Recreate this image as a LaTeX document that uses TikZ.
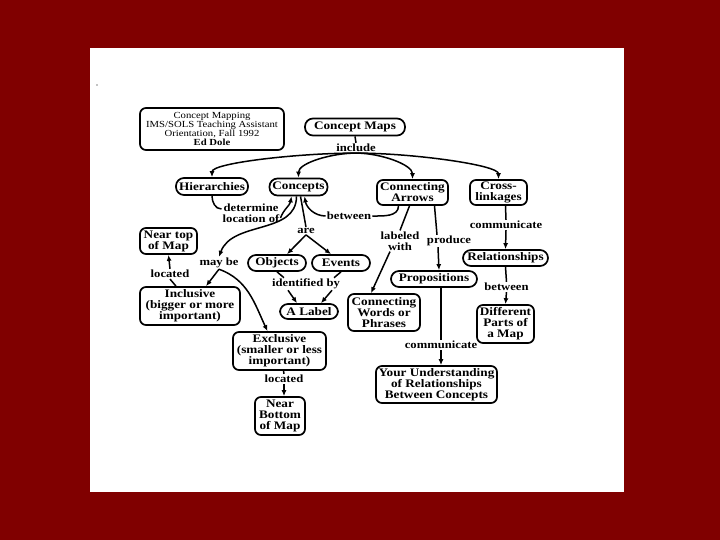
\documentclass[tikz,border=0pt]{standalone}
\usepackage{fontspec}
\setmainfont{Liberation Serif}[FakeStretch=1.15]
\usetikzlibrary{arrows.meta}
\definecolor{slidered}{HTML}{800000}

\begin{document}
\begin{tikzpicture}[x=1pt,y=1pt,
  box/.style={draw,line width=1.7pt,rounded corners=6pt,align=center,inner sep=1pt,
    font=\bfseries\fontsize{11.5}{11}\selectfont},
  pill/.style={box,rounded corners=8pt},
  lbl/.style={inner sep=1pt,align=center,font=\bfseries\fontsize{11}{11}\selectfont},
  link/.style={line width=1.5pt},
  arr/.style={link,-{Latex[length=6pt,width=5pt]}}]
% Slide background and white page.
\useasboundingbox (0,0) rectangle (720,-540);
\fill[slidered] (0,0) rectangle (720,-540);
\fill[white] (90,-48) rectangle (624,-492);
\fill (97,-85) circle (0.6);

% Title card.
\node[box,minimum width=144pt,minimum height=42pt,
  font=\fontsize{9.3}{8.9}\selectfont] (title) at (212,-129)
  {Concept Mapping\\IMS/SOLS Teaching Assistant\\Orientation, Fall 1992\\\textbf{Ed Dole}};

% Top level.
\node[pill,minimum width=100pt,minimum height=17pt] (cmaps) at (355,-127) {Concept Maps};
\node[lbl] (inc) at (356,-148) {include};
\node[pill,minimum width=72pt,minimum height=17pt] (hier) at (212,-186.5) {Hierarchies};
\node[pill,minimum width=58pt,minimum height=17pt] (con) at (298.5,-187) {Concepts};
\node[box,minimum width=71pt,minimum height=25pt] (ca) at (412.5,-192.5) {Connecting\\Arrows};
\node[box,minimum width=57pt,minimum height=25pt] (cross) at (498.5,-192.5) {Cross-\\linkages};

% Left part of the map.
\node[lbl] (det) at (251,-213) {determine\\location of};
\node[lbl] (betw) at (349,-216) {between};
\node[lbl] (are) at (306,-231) {are};
\node[box,minimum width=57pt,minimum height=26pt] (neartop) at (168.5,-241) {Near top\\of Map};
\node[lbl] (loc1) at (170,-274) {located};
\node[lbl] (maybe) at (219,-263) {may be};
\node[pill,minimum width=58pt,minimum height=16pt] (obj) at (277,-263) {Objects};
\node[pill,minimum width=58pt,minimum height=16pt] (ev) at (341,-263) {Events};
\node[lbl] (idby) at (306,-284) {identified by};
\node[pill,minimum width=58pt,minimum height=15pt] (alabel) at (309,-311.5) {A Label};
\node[box,minimum width=100pt,minimum height=38pt] (incl) at (190,-306)
  {Inclusive\\(bigger or more\\important)};
\node[box,minimum width=93pt,minimum height=38pt] (excl) at (279.5,-351)
  {Exclusive\\(smaller or less\\important)};
\node[lbl] (loc2) at (284,-379) {located};
\node[box,minimum width=50pt,minimum height=38pt] (nbot) at (280,-416) {Near\\Bottom\\of Map};

% Right part of the map.
\node[lbl] (labw) at (400,-241) {labeled\\with};
\node[lbl] (prod) at (449,-241) {produce};
\node[pill,minimum width=86pt,minimum height=16pt] (prop) at (434,-279) {Propositions};
\node[box,minimum width=72pt,minimum height=37pt] (cwp) at (384,-312.5) {Connecting\\Words or\\Phrases};
\node[lbl] (comm1) at (441,-345) {communicate};
\node[box,minimum width=121pt,minimum height=37pt] (yu) at (436.5,-384.5)
  {Your Understanding\\of Relationships\\Between Concepts};
\node[lbl] (comm2) at (506,-225) {communicate};
\node[pill,minimum width=85pt,minimum height=16pt] (rel) at (505.5,-258) {Relationships};
\node[lbl] (betw2) at (506.5,-287) {between};
\node[box,minimum width=57pt,minimum height=38pt] (diff) at (505.5,-324) {Different\\Parts of\\a Map};

% include branches.
\draw[link] (cmaps.south) -- (inc.north);
\draw[arr] (inc.south) to[out=180,in=90,in looseness=0.25] (hier.north);
\draw[arr] (inc.south) to[out=180,in=90,in looseness=0.6] (con.north);
\draw[arr] (inc.south) to[out=0,in=90,in looseness=0.6] (ca.north);
\draw[arr] (inc.south) to[out=0,in=90,in looseness=0.25] (cross.north);

% Links into Concepts.
\draw[link] (hier.south) to[out=-90,in=180] ([yshift=4pt]det.west);
\draw[arr] ([yshift=-5pt]det.east) to[out=70,in=-100] ([xshift=-7pt]con.south);
\draw[link] ([xshift=-14pt]ca.south) to[out=-90,in=0] (betw.east);
\draw[arr] (betw.west) to[out=180,in=-80] ([xshift=6pt]con.south);

% Concepts downwards.
\draw[arr] ([xshift=-2pt]con.south) to[out=-90,in=70] (maybe.north);
\draw[link] ([xshift=2pt]con.south) -- (are.north);
\draw[arr] (are.south) -- ([xshift=10pt]obj.north);
\draw[arr] (are.south) -- ([xshift=-10pt]ev.north);
\draw[link] (obj.south) -- ([xshift=-22pt]idby.north);
\draw[link] (ev.south) -- ([xshift=28pt]idby.north);
\draw[arr] ([xshift=-18pt]idby.south) -- ([xshift=-12pt]alabel.north);
\draw[arr] ([xshift=26pt]idby.south) -- ([xshift=12pt]alabel.north);

% may be: inclusive or exclusive.
\draw[arr] (maybe.south) -- ([xshift=16pt]incl.north);
\draw[arr] (maybe.south) to[out=-20,in=115] ([xshift=-12pt]excl.north);
\draw[link] ([xshift=-14pt]incl.north) -- (loc1.south);
\draw[arr] (loc1.north) -- (neartop.south);
\draw[link] ([xshift=4pt]excl.south) -- (loc2.north);
\draw[arr] (loc2.south) -- (loc2.south |- nbot.north);

% Connecting arrows downwards.
\draw[link] ([xshift=-3pt]ca.south) -- (labw.north);
\draw[arr] ([xshift=-10pt]labw.south) -- ([xshift=-13pt]cwp.north);
\draw[link] ([xshift=22pt]ca.south) -- ([xshift=-12pt]prod.north);
\draw[arr] ([xshift=-11pt]prod.south) -- ([xshift=5pt]prop.north);
\draw[link] ([xshift=7pt]prop.south) -- (comm1.north);
\draw[arr] (comm1.south) -- (comm1.south |- yu.north);

% Cross-linkages downwards.
\draw[link] ([xshift=7pt]cross.south) -- (comm2.north);
\draw[arr] (comm2.south) -- (rel.north);
\draw[link] (rel.south) -- (betw2.north);
\draw[arr] (betw2.south) -- (diff.north);
\end{tikzpicture}
\end{document}
